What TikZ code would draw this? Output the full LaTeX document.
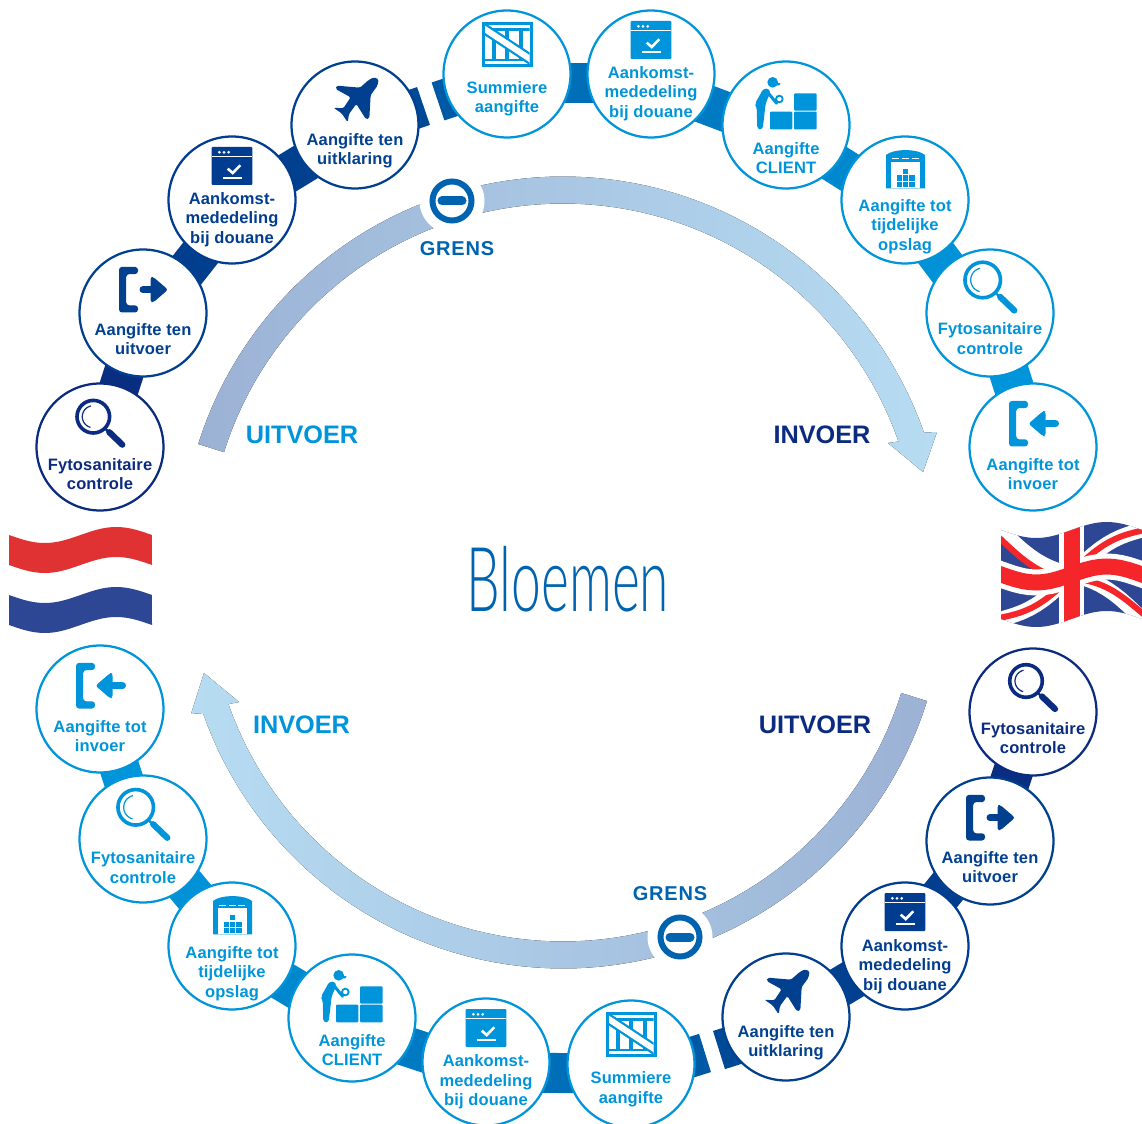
\documentclass[tikz,border=0pt]{standalone}
\usepackage{fontspec}
\setmainfont{Liberation Sans}
\newfontfamily\lblf{Liberation Sans}[LetterSpace=0.8]
\newfontfamily\grf{Liberation Sans}[LetterSpace=4]
\newfontfamily\thinf{Lato Light}
\usetikzlibrary{backgrounds,calc}
\definecolor{cli}{HTML}{0095DA}
\definecolor{cfy}{HTML}{0A2B80}
\definecolor{cuv}{HTML}{00408F}
\definecolor{cak}{HTML}{003C90}
\definecolor{cul}{HTML}{00408F}
\definecolor{cgr}{HTML}{0063AF}
\definecolor{arcA}{HTML}{9CB2D5}
\definecolor{arcB}{HTML}{B6DCF2}
\definecolor{nlred}{HTML}{E03232}
\definecolor{flagblue}{HTML}{2E4795}
\definecolor{ukred}{HTML}{F52629}
\tikzset{
  pw/.style={line width=#1*0.02cm},
  hub/.style={circle,draw=#1,fill=white,line width=0.045cm,minimum size=2.54cm,inner sep=0pt,outer sep=0pt},
  lbl/.style={text=#1,font=\lblf\bfseries\fontsize{9.4}{11.1}\selectfont,align=center,inner sep=0pt},
  band/.style={line width=0.8cm,color=#1},
  biglbl/.style={text=#1,font=\bfseries\fontsize{14.4}{17}\selectfont,inner sep=0pt},
  grenslbl/.style={text=cgr,font=\grf\bfseries\fontsize{11.4}{13}\selectfont,inner sep=0pt},
  grensmark/.style={circle,fill=white,minimum size=1.3cm,inner sep=0pt,outer sep=0pt},
  declare function={wv(\u)=8*sin(360*\u);}
}
% icons: drawn relative to the centre of their circle
\newcommand\icrate{%
  \begin{scope}[shift={(0.35,-29.5)}]
    \fill (-25.3,-22.2) rectangle (25.3,22.2);
    \fill[white] (-22.3,-19.2) rectangle (22.3,19.2);
    \begin{scope}
      \clip (-22.3,-19.2) rectangle (22.3,19.2);
      \fill (-22.3,-16.2) rectangle (22.3,-13.8);
      \fill (-22.3,14.2) rectangle (22.3,16.6);
      \fill (-15.7,-14) rectangle (-11.4,15);
      \fill (-2.3,-14) rectangle (2,15);
      \fill (12,-14) rectangle (15.3,15);
      \draw[pw=10.5] (-25,-17) -- (25,16);
      \draw[white,pw=6] (-25,-17) -- (25,16);
    \end{scope}
  \end{scope}}
\newcommand\iwindow{%
  \begin{scope}[shift={(0,-34)}]
    \fill[rounded corners=0.02cm] (-20.4,-19) rectangle (20.4,19);
    \draw[white,pw=1] (-20.4,-9.5) -- (20.4,-9.5);
    \fill[white] (-12.7,-13.7) circle (1.5) (-8,-13.7) circle (1.5) (-3.3,-13.7) circle (1.5);
    \draw[white,pw=2.6] (-4.3,2.7) -- (0.7,7) -- (8.3,-0.7);
    \draw[white,pw=2.2] (-9.3,12.3) -- (10,12.3);
  \end{scope}}
\newcommand\iworker{%
  \begin{scope}[shift={(-36,-55)},xscale=1/3,yscale=1/3]
    \fill[rounded corners=0.02cm] (132,70) rectangle (200,122);
    \fill[rounded corners=0.02cm] (60,125) rectangle (127,178);
    \fill[rounded corners=0.02cm] (132,125) rectangle (200,178);
    \fill (68,37) circle (16);
    \fill (70,38) -- (92,40) -- (88,46) -- (70,46) -- cycle;
    \fill[rounded corners=0.06cm] (40,56) -- (58,56) -- (60,70) -- (47,100) -- (38,178) -- (22,178) -- (20,110) -- (14,103) -- cycle;
    \draw[pw=3,line cap=round] (54,68) -- (80,100);
    \draw[pw=1.8] (88,87) circle (10);
  \end{scope}}
\newcommand\iware{%
  \begin{scope}[shift={(0.5,-31)}]
    \fill (-19.5,19.3) -- (-19.5,-14) .. controls (-12,-20.5) and (12,-20.5) .. (19.5,-14) -- (19.5,19.3) -- cycle;
    \fill[white] (-14.5,-7.3) rectangle (14.5,19.4);
    \draw[white,pw=1,dash pattern=on 0.14cm off 0.06cm] (-14,-10) -- (14,-10);
    \fill (-2.6,0.3) rectangle (2.6,5.3);
    \foreach \yy in {6.5,13} {
      \fill (-9,\yy) rectangle (-3.7,\yy+5.2);
      \fill (-2.6,\yy) rectangle (2.6,\yy+5.2);
      \fill (3.7,\yy) rectangle (9,\yy+5.2);
    }
  \end{scope}}
\newcommand\ilens[3]{%
  \begin{scope}[shift={(#2,#3)},scale=#1]
    \draw[pw=3.6] (0,0) circle (16.3);
    \draw[pw=1.2] plot[domain=105:257,samples=20] ({11*cos(\x)},{11*sin(\x)});
    \draw[pw=2.4] (11,11) -- (17,17);
    \draw[pw=6.2,line cap=round] (16,15.5) -- (29,28);
  \end{scope}}
\newcommand\ibracket{%
  \fill[rounded corners=0.06cm] (-9.5,-22.8) -- (9.5,-22.8) -- (9.5,-15.6) -- (-2.3,-15.6) -- (-2.3,15.6) -- (9.5,15.6) -- (9.5,22.8) -- (-9.5,22.8) -- cycle;}
\newcommand\idoorin{%
  \begin{scope}[shift={(-14.5,-23.3)}]
    \ibracket
    \draw[pw=7,line cap=round] (22,0) -- (37,0);
    \fill[rounded corners=0.05cm] (10,0) -- (24.5,-12.5) -- (27,-12.5) -- (27,12.5) -- (24.5,12.5) -- cycle;
  \end{scope}}
\newcommand\idoorout{%
  \begin{scope}[shift={(-14.5,-23.3)}]
    \ibracket
    \draw[pw=7,line cap=round] (14.5,0) -- (28,0);
    \fill[rounded corners=0.05cm] (39.5,0) -- (25,-12.5) -- (22,-12.5) -- (22,12.5) -- (25,12.5) -- cycle;
  \end{scope}}
\newcommand\iplane{%
  \begin{scope}[shift={(-75,-125)},xscale=1/3,yscale=1/3]
    \fill[rounded corners=0.03cm] (296,238) -- (282,232) -- (266,240) -- (240,263) -- (170,257) -- (167,267) -- (212,292) -- (190,325) -- (160,323) -- (185,340) -- (203,367) -- (207,342) -- (229,312) -- (258,358) -- (268,355) -- (272,285) -- (292,258) -- cycle;
  \end{scope}}
% stop on the route: name, x, y, colour, icon, text dy, text
\newcommand\stn[7]{%
  \node[hub=#4] (#1) at (#2,#3) {};
  \begin{scope}[shift={(#2,#3)},color=#4] #5 \end{scope}
  \node[lbl=#4] (#1t) at (#2,#3+#6) {#7};}
% band between two stops, #4 px towards the ring's inside
\newcommand\bnd[4]{\draw[band=#3] ($(#1.center)!#4*0.02cm!-90:(#2.center)$) -- ($(#2.center)!#4*0.02cm!90:(#1.center)$);}
% waving strip of a flag
\newcommand\wavepath[4]{plot[domain=0:1,samples=40] ({#1+#2*\x},{#3+wv(\x)}) -- plot[domain=1:0,samples=40] ({#1+#2*\x},{#4+wv(\x)}) -- cycle}
\newcommand\ukln[5]{\draw[#1] plot[domain=0:1,samples=25] ({1001+141*(#2+(#4-#2)*\x)},{530+89*(#3+(#5-#3)*\x)+wv(#2+(#4-#2)*\x)});}
\begin{document}
\begin{tikzpicture}[x=0.02cm,y=-0.02cm]
\useasboundingbox (0,0) rectangle (1142,1124);
% big arcs
\fill[left color=arcA,right color=arcB]
  plot[domain=197.5:340.7,samples=70] ({563+382.5*cos(\x)},{559+382.5*sin(\x)})
  -- (937,432) -- (923,472) -- (888,443)
  -- plot[domain=340.7:197.5,samples=70] ({563+355.5*cos(\x)},{559+355.5*sin(\x)}) -- cycle;
\fill[left color=arcB,right color=arcA]
  plot[domain=17.4:160.7,samples=70] ({563+381.5*cos(\x)},{587+381.5*sin(\x)})
  -- (191,714) -- (204,673) -- (239,702)
  -- plot[domain=160.7:17.4,samples=70] ({563+354.5*cos(\x)},{587+354.5*sin(\x)}) -- cycle;
% border marks
\node[grensmark] (g1) at (452,201) {};
\draw[cgr,pw=6] (g1.center) circle (19.5);
\draw[cgr,pw=9,line cap=round] ([xshift=-0.2cm]g1.center) -- ([xshift=0.2cm]g1.center);
\node[grensmark] (g2) at (680,937) {};
\draw[cgr,pw=6] (g2.center) circle (19.5);
\draw[cgr,pw=9,line cap=round] ([xshift=-0.2cm]g2.center) -- ([xshift=0.2cm]g2.center);
\node[grenslbl] (g1t) at (457,249) {GRENS};
\node[grenslbl] (g2t) at (670,894) {GRENS};
% labels
\node[biglbl=cli] (l1) at (302,434.5) {UITVOER};
\node[biglbl=cfy] (l2) at (822,434.5) {INVOER};
\node[biglbl=cfy] (l3) at (815,724.5) {UITVOER};
\node[biglbl=cli] (l4) at (301.5,724.5) {INVOER};
\node[text=cgr,inner sep=0pt] (title) at (568,579) {\scalebox{.595}[1]{\thinf\fontsize{51}{51}\selectfont Bloemen}};
% top half
\stn{a1}{100}{447}{cfy}{\ilens{1}{-6.7}{-30.3}}{27}{Fytosanitaire\\controle}
\stn{a2}{143}{313}{cuv}{\idoorout}{26}{Aangifte ten\\uitvoer}
\stn{a3}{232}{200}{cak}{\iwindow}{19.5}{Aankomst-\\mededeling\\bij douane}
\stn{a4}{355}{125}{cul}{\iplane}{26}{Aangifte ten\\uitklaring}
\stn{a5}{507}{74}{cli}{\icrate}{25}{Summiere\\aangifte}
\stn{a6}{651}{74}{cli}{\iwindow}{19.5}{Aankomst-\\mededeling\\bij douane}
\stn{a7}{786}{125}{cli}{\iworker}{33}{Aangifte\\CLIENT}
\stn{a8}{905}{200}{cli}{\iware}{26.5}{Aangifte tot\\tijdelijke\\opslag}
\stn{a9}{990}{313}{cli}{\ilens{1.09}{-7.3}{-33}}{25.5}{Fytosanitaire\\controle}
\stn{a10}{1033}{447}{cli}{\idoorin}{27}{Aangifte tot\\invoer}
% bottom half
\stn{b1}{1033}{712}{cfy}{\ilens{1}{-7}{-31}}{26}{Fytosanitaire\\controle}
\stn{b2}{990}{841}{cuv}{\idoorout}{26}{Aangifte ten\\uitvoer}
\stn{b3}{905}{946}{cak}{\iwindow}{20.5}{Aankomst-\\mededeling\\bij douane}
\stn{b4}{786}{1017}{cul}{\iplane}{26}{Aangifte ten\\uitklaring}
\stn{b5}{631}{1064}{cli}{\icrate}{25.5}{Summiere\\aangifte}
\stn{b6}{486}{1062}{cli}{\iwindow}{20}{Aankomst-\\mededeling\\bij douane}
\stn{b7}{352}{1018}{cli}{\iworker}{32}{Aangifte\\CLIENT}
\stn{b8}{232}{946}{cli}{\iware}{27.5}{Aangifte tot\\tijdelijke\\opslag}
\stn{b9}{143}{839}{cli}{\ilens{1.09}{-7.3}{-31.7}}{28.5}{Fytosanitaire\\controle}
\stn{b10}{100}{709}{cli}{\idoorin}{27}{Aangifte tot\\invoer}
% route bands
\coordinate (gapa) at (423.5,106);
\coordinate (gapb) at (438,101.5);
\coordinate (gapc) at (719,1050);
\coordinate (gapd) at (705,1053);
\begin{pgfonlayer}{background}
  \bnd{a1}{a2}{cfy!90!cuv}{0}
  \bnd{a2}{a3}{cuv!90!cfy}{8}
  \bnd{a3}{a4}{cuv}{6}
  \draw[band=cuv!90!cli] ($(a4.center)!4*0.02cm!-90:(a5.center)$) -- (gapa);
  \draw[band=cuv!70!cli] (gapb) -- ($(a5.center)!4*0.02cm!90:(a4.center)$);
  \bnd{a5}{a6}{cuv!45!cli}{9}
  \bnd{a6}{a7}{cuv!30!cli}{9}
  \bnd{a7}{a8}{cuv!15!cli}{6.3}
  \bnd{a8}{a9}{cuv!5!cli}{7.4}
  \bnd{a9}{a10}{cli}{0}
  \bnd{b1}{b2}{cfy!90!cuv}{0}
  \bnd{b2}{b3}{cuv!90!cfy}{4}
  \bnd{b3}{b4}{cuv}{-2}
  \draw[band=cuv!90!cli] ($(b4.center)!-11.5*0.02cm!-90:(b5.center)$) -- (gapc);
  \draw[band=cuv!70!cli] (gapd) -- ($(b5.center)!-11.5*0.02cm!90:(b4.center)$);
  \bnd{b5}{b6}{cuv!45!cli}{-10}
  \bnd{b6}{b7}{cuv!30!cli}{-10}
  \bnd{b7}{b8}{cuv!15!cli}{-4}
  \bnd{b8}{b9}{cuv!5!cli}{3}
  \bnd{b9}{b10}{cli}{0}
\end{pgfonlayer}
% Dutch flag
\fill[nlred] \wavepath{9}{143}{535}{565};
\fill[flagblue] \wavepath{9}{143}{595}{625};
% British flag
\begin{scope}
  \clip \wavepath{1001}{141}{530}{619};
  \fill[flagblue] \wavepath{1001}{141}{530}{619};
  \ukln{white,pw=15}{-0.1}{-0.1}{1.1}{1.1}
  \ukln{white,pw=15}{-0.1}{1.1}{1.1}{-0.1}
  \ukln{ukred,pw=6}{-0.05}{0.06}{0.38}{0.46}
  \ukln{ukred,pw=6}{0.6}{0.62}{1.05}{0.97}
  \ukln{ukred,pw=6}{0.6}{0.38}{1.05}{-0.04}
  \ukln{ukred,pw=6}{-0.05}{1.03}{0.4}{0.62}
  \ukln{white,pw=25}{0.5}{-0.1}{0.5}{1.1}
  \ukln{white,pw=26}{-0.1}{0.5}{1.1}{0.5}
  \ukln{ukred,pw=16}{-0.1}{0.5}{1.1}{0.5}
  \ukln{ukred,pw=16}{0.5}{-0.1}{0.5}{1.1}
\end{scope}
\end{tikzpicture}
\end{document}
